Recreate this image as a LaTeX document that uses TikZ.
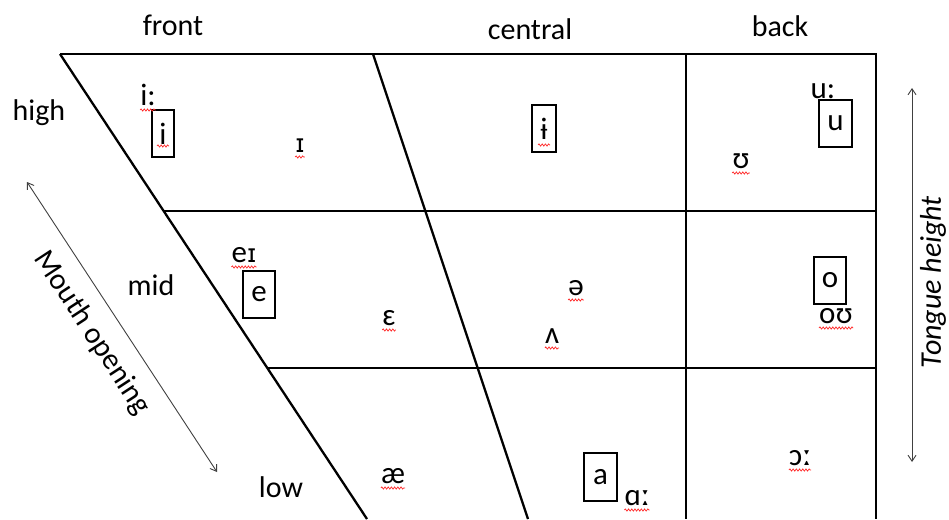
\documentclass[tikz,border=0pt]{standalone}
\usepackage{fontspec}
\setmainfont{Carlito}
\newfontfamily\ipafont{Carlito}
\newfontfamily\smallcapI{DejaVu Sans}
\newcommand{\capI}{{\smallcapI\fontsize{25}{30}\selectfont ɪ}}
\usetikzlibrary{arrows.meta,decorations.pathmorphing}
\tikzset{
  thickline/.style={line width=2.3pt, black},
  thinline/.style={line width=1.4pt, black},
  lbl/.style={font=\fontsize{30}{34}\selectfont, inner sep=0pt, anchor=base},
  ipa/.style={font=\ipafont\fontsize{31}{34}\selectfont, inner sep=0pt, anchor=base},
  vbox/.style={draw, line width=1.1pt, font=\ipafont\fontsize{31}{34}\selectfont, inner sep=0pt},
  axisarrow/.style={line width=0.9pt, black!75, {Straight Barb[length=6pt,width=8pt]}-{Straight Barb[length=6pt,width=8pt]}},
  spell/.style={red!85, line width=0.7pt, decorate, decoration={snake, amplitude=1.1pt, segment length=3.2pt}}
}
\newcommand{\wavy}[1]{\draw[spell] ([yshift=-5pt]#1.base west) -- ([yshift=-5pt]#1.base east);}
\begin{document}
\begin{tikzpicture}[x=1pt,y=-1pt]
\useasboundingbox (0,0) rectangle (949,519);
% grid corners
\coordinate (TL) at (60,54);
\coordinate (TM) at (373,54);
\coordinate (TC) at (686,54);
\coordinate (TR) at (876,54);
\coordinate (BL) at (367,519);
\coordinate (BM) at (528,519);
\coordinate (BC) at (686,519);
\coordinate (BR) at (876,519);
\coordinate (ML) at (163.5,211);
\coordinate (MC) at (686,211);
\coordinate (MR) at (876,211);
\coordinate (LL) at (268,368);
\coordinate (LC) at (686,368);
\coordinate (LR) at (876,368);
% lines
\draw[thickline] (TL) -- (TC);
\draw[thinline] (TC) -- (TR) -- (BR);
\draw[thickline] (TC) -- (BC);
\draw[thickline] (TL) -- (BL);
\draw[thickline] (TM) -- (BM);
\draw[thickline] (ML) -- (MC);
\draw[thinline] (MC) -- (MR);
\draw[thickline] (LL) -- (LC);
\draw[thinline] (LC) -- (LR);
% column and row labels
\node[lbl] (front) at (173,36) {front};
\node[lbl] (central) at (530,40) {central};
\node[lbl] (back) at (780,37) {back};
\node[lbl] (high) at (39,120) {high};
\node[lbl] (mid) at (151,295) {mid};
\node[lbl] (low) at (281,497) {low};
% axis arrows
\coordinate (MO1) at (27,182);
\coordinate (MO2) at (217,472);
\draw[axisarrow] (MO1) -- (MO2);
\node[font=\fontsize{30}{34}\selectfont, rotate=-56.8, inner sep=0pt] (mouth) at (92,333) {Mouth opening};
\coordinate (TH1) at (912,88);
\coordinate (TH2) at (912,462);
\draw[axisarrow] (TH1) -- (TH2);
\node[font=\itshape\fontsize{30}{34}\selectfont, rotate=90, inner sep=0pt] (tongue) at (933,282) {Tongue height};
% boxed vowels
\node[vbox, minimum width=22pt, minimum height=47pt] (bi) at (163,133.5) {i};
\node[vbox, minimum width=24pt, minimum height=47pt] (bbi) at (544,128.5) {ɨ};
\node[vbox, minimum width=33pt, minimum height=47pt] (bu) at (835.5,123.5) {u};
\node[vbox, minimum width=32pt, minimum height=47pt] (be) at (259,294.5) {e};
\node[vbox, minimum width=32pt, minimum height=47pt] (bo) at (830,280.5) {o};
\node[vbox, minimum width=33pt, minimum height=48pt] (ba) at (600.5,477) {a};
% other vowels
\node[ipa] (ilong) at (148,105) {i:};
\node[ipa] (ulong) at (823,98) {u:};
\node[ipa] (ih) at (300,152) {\capI};
\node[ipa] (uh) at (741,168) {ʊ};
\node[ipa] (ei) at (244,262) {e\capI};
\node[ipa] (eh) at (389,325) {ɛ};
\node[ipa] (ae) at (393,483) {æ};
\node[ipa] (schwa) at (576,295) {ə};
\node[ipa] (wedge) at (552,343) {ʌ};
\node[ipa] (ou) at (836,323) {oʊ};
\node[ipa] (open) at (800,465) {ɔː};
\node[ipa] (ah) at (637,505) {ɑː};
% spell-check underlines
\wavy{ilong}
\wavy{ih}
\wavy{uh}
\wavy{ei}
\wavy{eh}
\wavy{ae}
\wavy{schwa}
\wavy{wedge}
\wavy{ou}
\wavy{open}
\wavy{ah}
\draw[spell] ([xshift=-6pt]bi.center |- 0,146) -- ++(12,0);
\draw[spell] ([xshift=-6pt]bbi.center |- 0,145) -- ++(12,0);
\end{tikzpicture}
\end{document}
